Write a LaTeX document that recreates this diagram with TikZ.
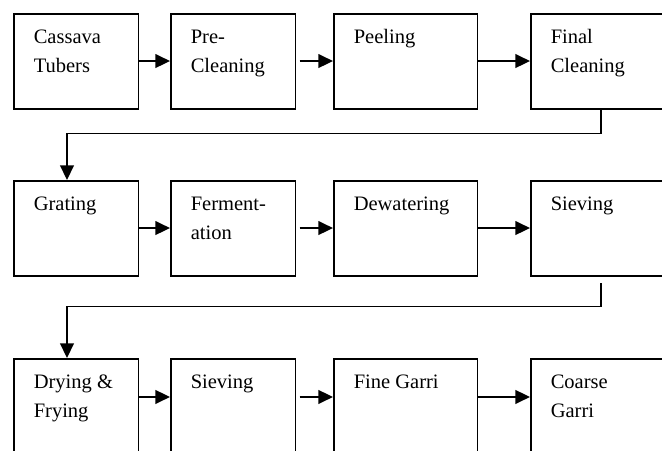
\documentclass[tikz,border=0pt]{standalone}
\usepackage{fontspec}
\setmainfont{Liberation Serif}
\usetikzlibrary{arrows.meta}

\tikzset{
  stepbox/.style={draw, anchor=north west, inner xsep=11.7pt, inner ysep=0pt},
  flow/.style={-{Triangle[length=8.5pt,width=8pt]}}
}
\newcommand{\steptext}[2]{\parbox[c][55.6pt][t]{#1}{\raggedright\rule{0pt}{17.6pt}#2}}

\begin{document}
\begin{tikzpicture}[x=0.585pt, y=-0.585pt, every node/.style={font=\fontsize{12pt}{16.8pt}\selectfont}, line width=0.9pt]
  \useasboundingbox (0,0) rectangle (662,451);
  \clip (0,0) rectangle (662,451);
  \foreach \row/\top/\mid/\a/\b/\c/\d in {1/13/28.1/{Cassava\\Tubers}/{Pre-\\Cleaning}/{Peeling}/{Final\\Cleaning}, 2/180/28.1/{Grating}/{Ferment-\\ation}/{Dewatering}/{Sieving}, 3/358/22.8/{Drying \&\\Frying}/{Sieving}/{Fine Garri}/{Coarse\\Garri}} {
    \node[stepbox] (r\row c1) at (13,\top) {\steptext{49.7pt}{\a}};
    \node[stepbox] (r\row c2) at (170,\top) {\steptext{49.7pt}{\b}};
    \node[stepbox] (r\row c3) at (333,\top) {\steptext{60.8pt}{\c}};
    \node[stepbox] (r\row c4) at (530,\top) {\steptext{60.8pt}{\d}};
    \draw[flow] ([yshift=-\mid pt]r\row c1.north east) -- ([yshift=-\mid pt]r\row c2.north west);
    \draw[flow, shorten <=1.8pt] ([yshift=-\mid pt]r\row c2.north east) -- ([yshift=-\mid pt]r\row c3.north west);
    \draw[flow] ([yshift=-\mid pt]r\row c3.north east) -- ([yshift=-\mid pt]r\row c4.north west);
  }
  % links between the rows
  \coordinate (left) at (67,0);
  \coordinate (right) at (601,0);
  \draw[flow] (r1c4.south -| right) -- ++(0,24) -| (r2c1.north -| left);
  \draw[flow, shorten <=4pt] (r2c4.south -| right) -- ++(0,30) -| (r3c1.north -| left);
\end{tikzpicture}
\end{document}
